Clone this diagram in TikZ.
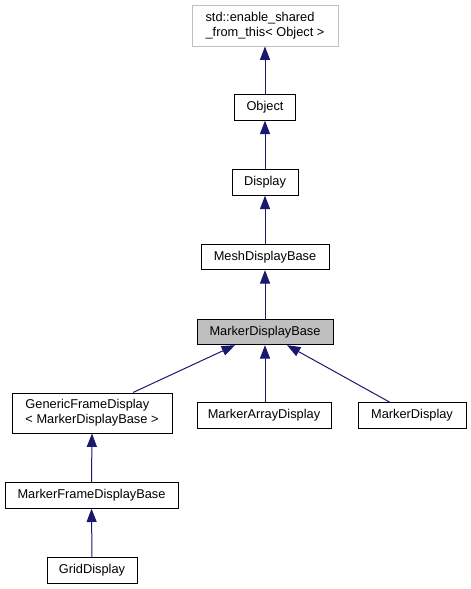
\documentclass[tikz,border=0pt]{standalone}
\usepackage{fontspec}
\setmainfont{Liberation Sans}
\usetikzlibrary{arrows.meta, calc}
\definecolor{EdgeBlue}{RGB}{25, 25, 112}
\definecolor{GreyLine}{RGB}{191, 191, 191}
\definecolor{GreyFill}{RGB}{191, 191, 191}

\begin{document}
\begin{tikzpicture}[x=0.75pt, y=-0.75pt,
    cls/.style={draw=black, fill=white, line width=0.75pt, inner sep=0pt,
        minimum height=19pt, font=\fontsize{9.6}{11.5}\selectfont},
    inh/.style={EdgeBlue, line width=0.75pt, {Triangle[width=7.5pt,length=10pt]}-}]

    %% Page frame
    \useasboundingbox (0, 0) rectangle (471, 589);

    %% --- Classes ---
    \node[cls, draw=GreyLine, minimum width=109.5pt, minimum height=30.75pt, align=left]
        (esft) at (265, 25.5) {std::enable\_shared\\\_from\_this< Object >};
    \node[cls, minimum width=45.75pt] (obj)  at (265, 107.5) {Object};
    \node[cls, minimum width=49.5pt]  (disp) at (265, 182.5) {Display};
    \node[cls, minimum width=96pt]    (mesh) at (265, 257) {MeshDisplayBase};
    \node[cls, fill=GreyFill, minimum width=102pt] (mdb) at (265, 332) {MarkerDisplayBase};

    \node[cls, minimum width=120pt, minimum height=30pt, align=left]
        (gfd) at (92, 413) {GenericFrameDisplay\\< MarkerDisplayBase >};
    \node[cls, minimum width=100.5pt] (mad) at (264, 415.5) {MarkerArrayDisplay};
    \node[cls, minimum width=81pt]    (md)  at (412, 415.5) {MarkerDisplay};

    \node[cls, minimum width=129.75pt] (mfdb) at (91.5, 495.5) {MarkerFrameDisplayBase};
    \node[cls, minimum width=67.5pt]   (grid) at (92, 570.5) {GridDisplay};

    %% --- Inheritance ---
    \draw[inh] (esft.south) -- (obj.north);
    \draw[inh] (obj.south)  -- (disp.north);
    \draw[inh] (disp.south) -- (mesh.north);
    \draw[inh] (mesh.south) -- (mdb.north);

    \draw[inh] ($(mdb.south)+(-30,0)$) -- ($(gfd.north)+(41,0)$);
    \draw[inh] (mdb.south) -- (mdb.south |- mad.north);
    \draw[inh] ($(mdb.south)+(22,0)$) -- ($(md.north)+(-22,0)$);

    \draw[inh] (gfd.south)  -- (mfdb.north);
    \draw[inh] (mfdb.south) -- (grid.north);

\end{tikzpicture}
\end{document}
